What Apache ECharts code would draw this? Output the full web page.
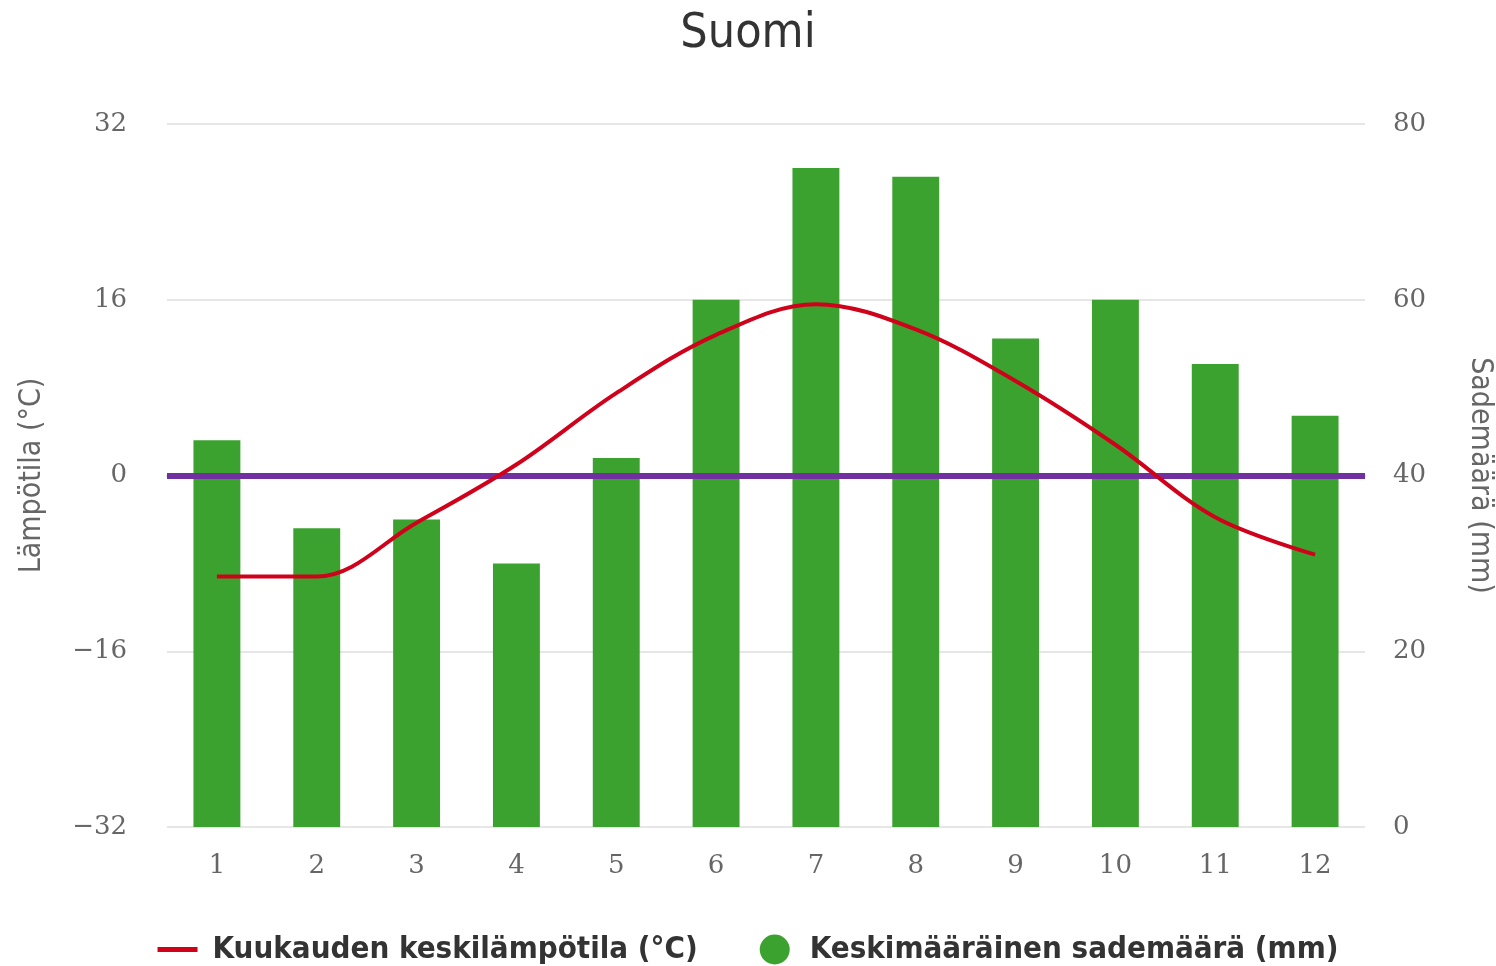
<!DOCTYPE html>
<html>
<head>
<meta charset="utf-8">
<title>Suomi</title>
<script src="https://cdn.jsdelivr.net/npm/echarts@6/dist/echarts.min.js"></script>
<style>
  html, body { margin: 0; padding: 0; background: #fff; }
  #main { width: 1496px; height: 966px; }
</style>
</head>
<body>
<div id="main"></div>
<script>
  'use strict'

  var months = ['1', '2', '3', '4', '5', '6', '7', '8', '9', '10', '11', '12'];
  var temperature = [-9.2, -9.2, -4.3, 1.0, 7.5, 12.8, 15.6, 13.3, 8.6, 2.8, -3.8, -7.2];
  var rainfall = [44, 34, 35, 30, 42, 60, 75, 74, 55.6, 60, 52.7, 46.8];
  var tempTicks = { min: -32, max: 32, interval: 16 };
  var rainTicks = { min: 0, max: 80, interval: 20 };

  var tempName = 'Kuukauden keskilämpötila (°C)';
  var rainName = 'Keskimääräinen sademäärä (mm)';

  var labelFont = '"DejaVu Serif", serif';
  var narrowFont = '"Liberation Sans Narrow", "DejaVu Sans Condensed", sans-serif';

  var chart = echarts.init(document.getElementById('main'));
  var option = {
    animation: false,
    title: {
      text: 'Suomi',
      left: 'center',
      top: 6,
      textStyle: { fontFamily: narrowFont, fontSize: 48, fontWeight: 'normal', color: '#333' }
    },
    legend: {
      bottom: -4,
      left: 'center',
      itemGap: 62,
      itemWidth: 40,
      itemHeight: 30,
      textStyle: {
        fontFamily: narrowFont, fontSize: 31, fontWeight: 'bold', color: '#333',
        padding: [0, 0, 0, 10]
      },
      data: [
        { name: tempName, icon: 'path://M0,12.5h40v5h-40z M0,0h0.05v0.05h-0.05z M39.95,29.95h0.05v0.05h-0.05z' },
        { name: rainName, icon: 'circle' }
      ]
    },
    grid: { left: 167, right: 131, top: 124, bottom: 139, outerBoundsMode: 'none' },
    xAxis: {
      type: 'category',
      data: months,
      axisLine: { lineStyle: { color: '#ccd6eb', width: 2 } },
      axisTick: { show: false },
      axisLabel: { fontFamily: labelFont, fontSize: 26, color: '#666', margin: 26 }
    },
    yAxis: [
      {
        type: 'value',
        min: tempTicks.min, max: tempTicks.max, interval: tempTicks.interval,
        name: 'Lämpötila (°C)',
        nameLocation: 'middle',
        nameGap: 120,
        nameTextStyle: { fontFamily: narrowFont, fontSize: 30, color: '#666' },
        axisLabel: {
          fontFamily: labelFont, fontSize: 26, color: '#666', margin: 40,
          formatter: function (v) { return v < 0 ? '\u2212' + Math.abs(v) : String(v); }
        },
        splitLine: { lineStyle: { color: '#e6e6e6', width: 2 } },
        axisLine: { show: false },
        axisTick: { show: false }
      },
      {
        type: 'value',
        min: rainTicks.min, max: rainTicks.max, interval: rainTicks.interval,
        name: 'Sademäärä (mm)',
        nameLocation: 'middle',
        nameGap: 100,
        nameRotate: -90,
        nameTextStyle: { fontFamily: narrowFont, fontSize: 30, color: '#666' },
        axisLabel: { fontFamily: labelFont, fontSize: 26, color: '#666', margin: 28 },
        splitLine: { show: false },
        axisLine: { show: false },
        axisTick: { show: false }
      }
    ],
    series: [
      {
        name: rainName,
        type: 'bar',
        yAxisIndex: 1,
        data: rainfall,
        barWidth: '47%',
        itemStyle: { color: '#3ca22f' },
        z: 2
      },
      {
        name: tempName,
        type: 'line',
        yAxisIndex: 0,
        data: temperature,
        smooth: 0.35,
        showSymbol: false,
        symbol: 'none',
        lineStyle: { color: '#d0021b', width: 4 },
        itemStyle: { color: '#d0021b' },
        z: 4,
        markLine: {
          silent: true,
          symbol: 'none',
          label: { show: false },
          lineStyle: { color: '#7030a0', width: 6, type: 'solid' },
          data: [{ yAxis: 0 }],
          z: 3
        }
      }
    ]
  };
  chart.setOption(option);
</script>
</body>
</html>
